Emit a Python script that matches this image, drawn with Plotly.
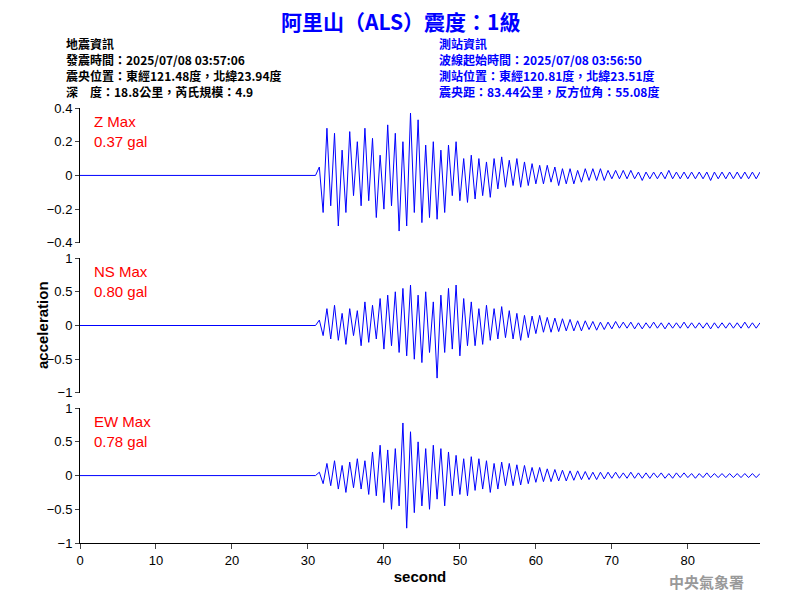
import plotly.graph_objects as go
from plotly.subplots import make_subplots

t_start = 31.5
dt = 0.5
z_vals = [0.05,-0.22,0.28,-0.18,0.25,-0.30,0.15,-0.22,0.26,-0.12,
          0.20,-0.18,0.28,-0.15,0.22,-0.25,0.12,-0.20,0.30,-0.18,
          0.25,-0.33,0.20,-0.30,0.37,-0.22,0.33,-0.28,0.18,-0.25,
          0.20,-0.26,0.15,-0.22,0.18,-0.12,0.20,-0.15,0.10,-0.16,
          0.12,-0.14,0.10,-0.12,0.08,-0.13,0.10,-0.08,0.11,-0.07,
          0.09,-0.06,0.10,-0.07,0.08,-0.06,0.07,-0.05,0.06,-0.05,
          0.06,-0.04,0.05,-0.06,0.04,-0.05,0.04,-0.05,0.03,-0.04,
          0.04,-0.03,0.04,-0.03,0.04,-0.03,0.03,-0.02,0.03,-0.02,
          0.03,-0.02,0.03,-0.02,0.02,-0.03,0.02,-0.02,0.02,-0.02,
          0.02,-0.02,0.03,-0.02,0.02,-0.02,0.02,-0.02,0.02,-0.02,
          0.02,-0.02,0.02,-0.03,0.02,-0.02,0.02,-0.02,0.02,-0.02,
          0.02,-0.02,0.02,-0.02,0.02,-0.02,0.02]
ns_vals = [0.08,-0.15,0.25,-0.20,0.30,-0.22,0.18,-0.28,0.25,-0.15,
           0.22,-0.30,0.35,-0.25,0.30,-0.20,0.40,-0.35,0.45,-0.30,
           0.50,-0.40,0.55,-0.45,0.60,-0.50,0.45,-0.55,0.50,-0.40,
           0.35,-0.78,0.45,-0.40,0.55,-0.35,0.60,-0.45,0.40,-0.30,
           0.35,-0.30,0.25,-0.28,0.30,-0.22,0.25,-0.20,0.28,-0.18,
           0.22,-0.20,0.18,-0.22,0.15,-0.18,0.14,-0.12,0.15,-0.10,
           0.12,-0.10,0.11,-0.09,0.10,-0.08,0.09,-0.08,0.07,-0.08,
           0.07,-0.06,0.06,-0.07,0.05,-0.06,0.05,-0.05,0.06,-0.04,
           0.05,-0.04,0.05,-0.05,0.04,-0.05,0.04,-0.04,0.05,-0.04,
           0.04,-0.05,0.04,-0.04,0.04,-0.04,0.05,-0.04,0.04,-0.04,
           0.04,-0.04,0.04,-0.05,0.04,-0.04,0.04,-0.04,0.04,-0.04,
           0.04,-0.04,0.05,-0.04,0.04,-0.04,0.04]
ew_vals = [0.05,-0.12,0.18,-0.15,0.22,-0.20,0.15,-0.25,0.20,-0.18,
           0.25,-0.20,0.22,-0.28,0.35,-0.30,0.45,-0.40,0.38,-0.50,
           0.40,-0.45,0.78,-0.78,0.65,-0.55,0.50,-0.45,0.40,-0.50,
           0.45,-0.35,0.40,-0.45,0.35,-0.30,0.30,-0.28,0.25,-0.30,
           0.28,-0.22,0.25,-0.20,0.22,-0.25,0.18,-0.20,0.20,-0.15,
           0.18,-0.15,0.16,-0.14,0.15,-0.12,0.12,-0.10,0.12,-0.09,
           0.10,-0.09,0.09,-0.08,0.08,-0.08,0.07,-0.07,0.07,-0.06,
           0.06,-0.06,0.05,-0.06,0.05,-0.05,0.05,-0.04,0.05,-0.04,
           0.04,-0.04,0.05,-0.04,0.04,-0.04,0.04,-0.04,0.04,-0.03,
           0.04,-0.04,0.03,-0.04,0.04,-0.03,0.04,-0.03,0.03,-0.04,
           0.03,-0.03,0.04,-0.03,0.03,-0.03,0.03,-0.03,0.03,-0.03,
           0.03,-0.03,0.03,-0.03,0.03,-0.03,0.03]
labels = ["Z Max<br>0.37 gal", "NS Max<br>0.80 gal", "EW Max<br>0.78 gal"]
yranges = [[-0.4, 0.4], [-1, 1], [-1, 1]]
yticks = [[-0.4, -0.2, 0, 0.2, 0.4], [-1, -0.5, 0, 0.5, 1], [-1, -0.5, 0, 0.5, 1]]
left_lines = ["地震資訊", "發震時間：2025/07/08 03:57:06",
              "震央位置：東經121.48度，北緯23.94度", "深　度：18.8公里，芮氏規模：4.9"]
right_lines = ["測站資訊", "波線起始時間：2025/07/08 03:56:50",
               "測站位置：東經120.81度，北緯23.51度", "震央距：83.44公里，反方位角：55.08度"]

OFF = 8  # page offset
W, H, L, R, T, B = 800, 600, 72, 48, 100, 65
PW, PH = W - L - R, H - T - B
def px(xp): return (xp - OFF - L) / PW
def py(yp): return (H - B - (yp - OFF)) / PH

fig = make_subplots(rows=3, cols=1, vertical_spacing=0.035)
for i, vals in enumerate([z_vals, ns_vals, ew_vals]):
    x = [0, t_start - dt] + [t_start + k * dt for k in range(len(vals))]
    y = [0, 0] + vals
    fig.add_trace(go.Scatter(x=x, y=y, mode="lines", line=dict(color="#0000ff", width=1),
                             showlegend=False), row=i + 1, col=1)
    fig.update_yaxes(range=yranges[i], tickvals=yticks[i], ticks="outside", ticklen=4,
                     showline=True, linecolor="black", showgrid=False, zeroline=False, automargin=False,
                     tickfont=dict(size=13, color="black", family="Arial"), row=i + 1, col=1)
    fig.update_xaxes(range=[0, 89.5], showgrid=False, zeroline=False, automargin=False,
                     showticklabels=(i == 2), showline=(i == 2), linecolor="black",
                     ticks="outside" if i == 2 else "", tickvals=[0, 10, 20, 30, 40, 50, 60, 70, 80],
                     tickfont=dict(size=13, color="black", family="Arial"), row=i + 1, col=1)
    ax = "x" if i == 0 else f"x{i+1}"
    ay = "y" if i == 0 else f"y{i+1}"
    fig.add_annotation(x=0.018, y=0.98, xref=f"{ax} domain", yref=f"{ay} domain", text=labels[i],
                       showarrow=False, xanchor="left", yanchor="top", align="left",
                       font=dict(size=15, color="red", family="Arial"))

fig.update_xaxes(title=dict(text="<b>second</b>", font=dict(size=15, family="Arial", color="black"), standoff=4), row=3, col=1)
fig.add_annotation(x=px(32), y=0.5, xref="paper", yref="paper", text="<b>acceleration</b>", textangle=-90,
                   showarrow=False, font=dict(size=15, family="Arial", color="black"))

cjk = "Noto Sans CJK TC"
fig.add_annotation(x=px(400), y=py(21), xref="paper", yref="paper", text="<b>阿里山（ALS）震度：1級</b>",
                   showarrow=False, font=dict(size=21, color="#0000ff", family=cjk), yanchor="middle")
for j, (lt, rt) in enumerate(zip(left_lines, right_lines)):
    yy = py(43 + 16.3 * j)
    fig.add_annotation(x=px(64), y=yy, xref="paper", yref="paper", text=f"<b>{lt}</b>", showarrow=False,
                       xanchor="left", yanchor="middle", font=dict(size=12, color="black", family=cjk))
    fig.add_annotation(x=px(437), y=yy, xref="paper", yref="paper", text=f"<b>{rt}</b>", showarrow=False,
                       xanchor="left", yanchor="middle", font=dict(size=12, color="#0000ff", family=cjk))
fig.add_annotation(x=px(746), y=py(581), xref="paper", yref="paper", text="<b>中央氣象署</b>", showarrow=False,
                   xanchor="right", yanchor="middle", font=dict(size=15, color="#999999", family=cjk))

fig.update_layout(width=W, height=H, margin=dict(l=L, r=R, t=T, b=B, autoexpand=False),
                  paper_bgcolor="white", plot_bgcolor="white")
fig.write_html("out.html")
